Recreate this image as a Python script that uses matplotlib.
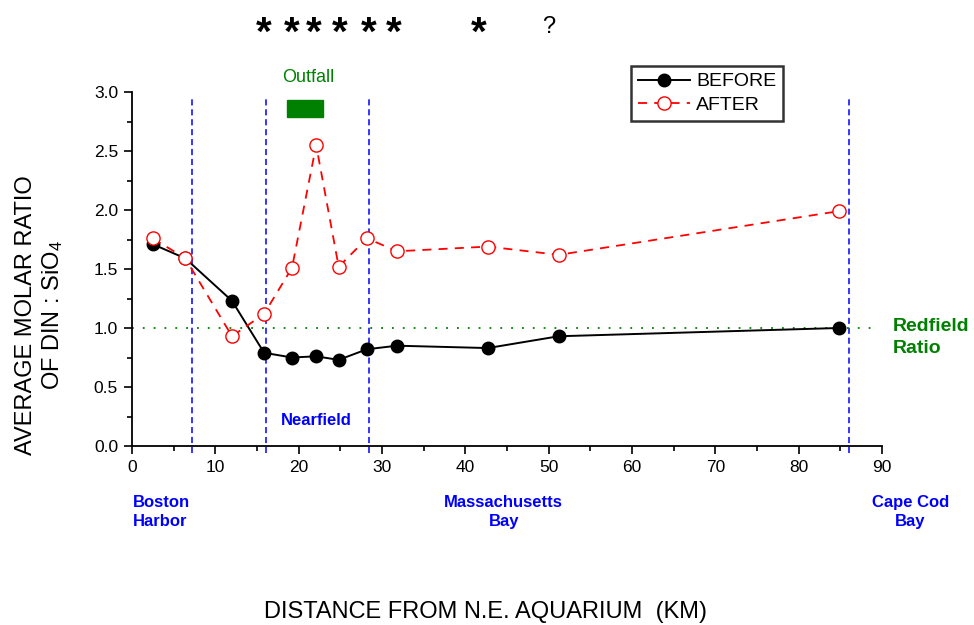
import matplotlib
matplotlib.use("Agg")
import matplotlib.pyplot as plt
from matplotlib.transforms import blended_transform_factory
from matplotlib.ticker import MultipleLocator
from matplotlib.patches import Rectangle

plt.rcParams['font.family'] = ['Liberation Sans', 'DejaVu Sans']
plt.rcParams['mathtext.fontset'] = 'custom'
plt.rcParams['mathtext.rm'] = 'Liberation Sans'
plt.rcParams['mathtext.it'] = 'Liberation Sans:italic'

# ---- data ----
distance_km = [2.5, 6.4, 12.0, 15.85, 19.2, 22.1, 24.8, 28.2, 31.8, 42.7, 51.2, 84.8]
before = [1.71, 1.59, 1.23, 0.79, 0.75, 0.76, 0.73, 0.82, 0.85, 0.83, 0.93, 1.00]
after = [1.76, 1.59, 0.93, 1.12, 1.51, 2.55, 1.52, 1.76, 1.65, 1.69, 1.62, 1.99]
boundaries_km = [7.2, 16.1, 28.4, 86.0]
redfield_ratio = 1.0
outfall_range = [18.6, 22.9]
sig_marks_x = [15.84, 19.2, 21.84, 24.96, 28.36, 31.36, 41.64, 49.96]
sig_marks = ['*', '*', '*', '*', '*', '*', '*', '?']
region_labels = ['Boston\nHarbor', 'Massachusetts\nBay', 'Cape Cod\nBay']
region_label_x = [0.1, 44.6, 93.4]
xticks = list(range(0, 91, 10))
yticks = [0.0, 0.5, 1.0, 1.5, 2.0, 2.5, 3.0]

W, H = 974, 625
fig = plt.figure(figsize=(W / 100, H / 100), dpi=100)
ax = fig.add_axes([132 / W, 1 - 446 / H, 750 / W, 354 / H])
ax.set_xlim(0, 90)
ax.set_ylim(0, 3.0)

# boundaries
ax.vlines(boundaries_km, -0.06, 2.97, colors='#0000FF', linewidth=1.1,
          linestyles=(0, (4, 2.5)), clip_on=False, zorder=1)
# Redfield line
ax.plot([0, 89.2], [redfield_ratio, redfield_ratio], color='#008000', lw=1.3,
        dashes=(1, 5), clip_on=False, zorder=1)

ax.plot(distance_km, before, color='black', lw=1.4, marker='o', ms=9,
        mfc='black', mec='black', label='BEFORE', zorder=3)
ax.plot(distance_km, after, color='#FF0000', lw=1.3, dashes=(5, 4), marker='o',
        ms=9.5, mfc='white', mec='#FF0000', mew=1.0, label='AFTER', zorder=4)

# outfall bar
ax.add_patch(Rectangle((outfall_range[0], 2.79), outfall_range[1] - outfall_range[0],
                       0.14, color='#008000', clip_on=False, zorder=2))
ax.text(21.1, 3.12, 'Outfall', color='#008000', fontsize=13, ha='center',
        va='center')
ax.text(22.1, 0.22, 'Nearfield', color='#0000FF', fontsize=12, fontweight='bold',
        ha='center', va='center')
ax.text(91.3, 0.92, 'Redfield\nRatio', color='#008000', fontsize=14,
        fontweight='bold', ha='left', va='center', linespacing=1.33, clip_on=False)

for xm, s in zip(sig_marks_x, sig_marks):
    if s == '*':
        ax.text(xm, 3.40, s, fontsize=29, fontweight='bold', ha='center',
                va='baseline', clip_on=False)
    else:
        ax.text(xm, 3.50, s, fontsize=17, ha='center', va='baseline', clip_on=False)

tr = blended_transform_factory(ax.transData, fig.transFigure)
for xl, lab in zip(region_label_x, region_labels):
    ha = 'left' if xl < 1 else 'center'
    ax.text(xl, 1 - 512 / H, lab, transform=tr, color='#0000FF', fontsize=12,
            fontweight='bold', ha=ha, va='center', multialignment=ha,
            linespacing=1.3, clip_on=False)

# axes styling
for s in ['top', 'right']:
    ax.spines[s].set_visible(False)
for s in ['left', 'bottom']:
    ax.spines[s].set_linewidth(1.3)
ax.set_xticks(xticks)
ax.set_yticks(yticks)
ax.set_yticklabels([f'{v:.1f}' for v in yticks])
ax.xaxis.set_minor_locator(MultipleLocator(5))
ax.yaxis.set_minor_locator(MultipleLocator(0.25))
ax.tick_params(which='major', direction='out', length=6, width=1.2,
               labelsize=12.5, pad=4)
ax.tick_params(which='minor', direction='out', length=3.5, width=1.2)

fig.text(40 / W, 1 - 315 / H, 'AVERAGE MOLAR RATIO\nOF DIN : SiO$_4$', rotation=90,
         ha='center', va='center', multialignment='center', fontsize=17,
         linespacing=1.2)
fig.text(486 / W, 1 - 612 / H, 'DISTANCE FROM N.E. AQUARIUM  (KM)', ha='center',
         va='center', fontsize=17)

leg = ax.legend(loc='upper left', bbox_to_anchor=(631 / W, 1 - 66 / H),
                bbox_transform=fig.transFigure, borderaxespad=0, fontsize=14,
                fancybox=False, frameon=True, handlelength=2.7,
                handletextpad=0.3, labelspacing=0.3, borderpad=0.35)
leg.get_frame().set_edgecolor('black')
leg.get_frame().set_linewidth(1.8)

fig.savefig('out.png', dpi=100)
